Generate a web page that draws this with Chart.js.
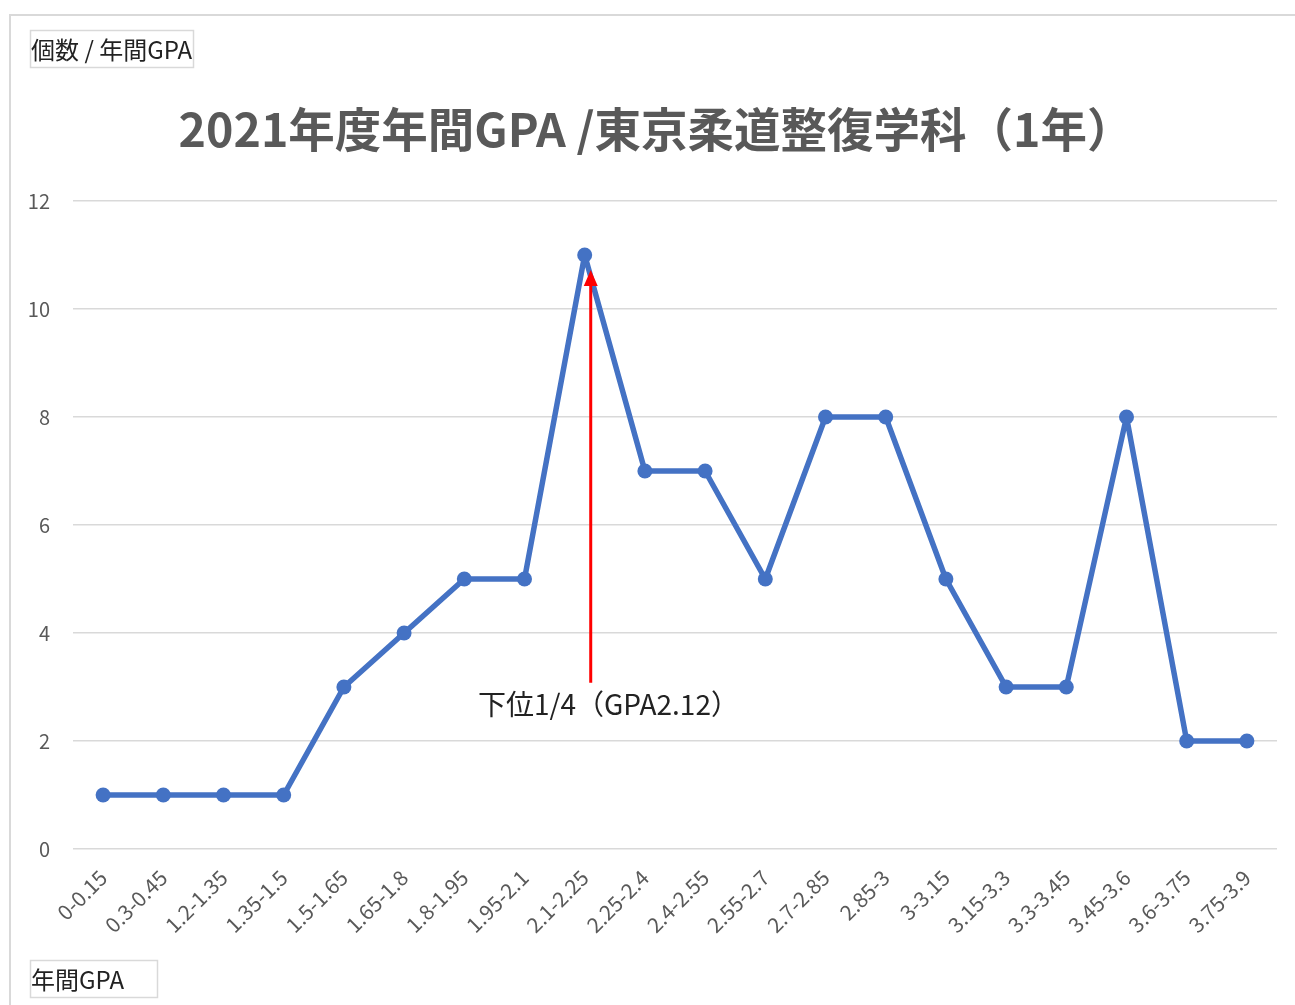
<!DOCTYPE html>
<html>
<head>
<meta charset="utf-8">
<script src="https://cdn.jsdelivr.net/npm/chart.js@4/dist/chart.umd.min.js"></script>
<style>
html,body{margin:0;padding:0;background:#fff;}
#wrap{position:relative;width:1295px;height:1005px;}
</style>
</head>
<body>
<div id="wrap"><canvas id="c" width="1295" height="1005"></canvas></div>
<script>
const categories = ["0-0.15","0.3-0.45","1.2-1.35","1.35-1.5","1.5-1.65","1.65-1.8","1.8-1.95","1.95-2.1","2.1-2.25","2.25-2.4","2.4-2.55","2.55-2.7","2.7-2.85","2.85-3","3-3.15","3.15-3.3","3.3-3.45","3.45-3.6","3.6-3.75","3.75-3.9"];
const counts = [1,1,1,1,3,4,5,5,11,7,7,5,8,8,5,3,3,8,2,2];
const yTicks = [0,2,4,6,8,10,12];
const titleText = "2021年度年間GPA /東京柔道整復学科（1年）";
const yAxisLabel = "個数 / 年間GPA";
const xAxisLabel = "年間GPA";
const annotationText = "下位1/4（GPA2.12）";
// annotation: category index (fractional) and value range of arrow
const arrowCategory = 8.1;
const arrowFrom = 3.08;
const arrowTo = 10.72;
const annotationTextValue = 2.67;

const FONT = '"Noto Sans CJK JP", "Noto Sans", sans-serif';

const decor = {
  id: 'decor',
  beforeDraw(chart) {
    const ctx = chart.ctx;
    ctx.save();
    ctx.fillStyle = '#fff';
    ctx.fillRect(0, 0, chart.width, chart.height);
    ctx.strokeStyle = '#d9d9d9';
    ctx.lineWidth = 2;
    ctx.beginPath();
    ctx.moveTo(10, 1005);
    ctx.lineTo(10, 15);
    ctx.lineTo(1295, 15);
    ctx.stroke();
    ctx.restore();
  },
  afterDraw(chart) {
    const ctx = chart.ctx;
    const xs = chart.scales.x, ys = chart.scales.y;
    ctx.save();
    // title
    ctx.fillStyle = '#595959';
    ctx.font = 'bold 46.5px ' + FONT;
    ctx.textAlign = 'center';
    ctx.textBaseline = 'middle';
    ctx.fillText(titleText, 656, 129);
    // axis label boxes
    ctx.font = '24px ' + FONT;
    ctx.textAlign = 'left';
    ctx.fillStyle = '#222';
    ctx.strokeStyle = '#d9d9d9';
    ctx.lineWidth = 1.5;
    ctx.strokeRect(30.5, 30.5, 163, 37);
    ctx.fillText(yAxisLabel, 31, 50);
    ctx.strokeRect(30.5, 960.5, 127, 37);
    ctx.fillText(xAxisLabel, 31, 980);
    // arrow
    const x0 = xs.getPixelForValue(Math.floor(arrowCategory));
    const x1 = xs.getPixelForValue(Math.floor(arrowCategory) + 1);
    const ax = x0 + (x1 - x0) * (arrowCategory - Math.floor(arrowCategory));
    const yStart = ys.getPixelForValue(arrowFrom);
    const yEnd = ys.getPixelForValue(arrowTo);
    ctx.strokeStyle = '#ff0000';
    ctx.fillStyle = '#ff0000';
    ctx.lineWidth = 3;
    ctx.beginPath();
    ctx.moveTo(ax, yStart);
    ctx.lineTo(ax, yEnd + 12);
    ctx.stroke();
    ctx.beginPath();
    ctx.moveTo(ax, yEnd);
    ctx.lineTo(ax - 7, yEnd + 16);
    ctx.lineTo(ax + 7, yEnd + 16);
    ctx.closePath();
    ctx.fill();
    // annotation text
    ctx.fillStyle = '#222';
    ctx.font = '28px ' + FONT;
    ctx.textAlign = 'left';
    ctx.textBaseline = 'middle';
    ctx.fillText(annotationText, 478, ys.getPixelForValue(annotationTextValue));
    ctx.restore();
  }
};

new Chart(document.getElementById('c'), {
  type: 'line',
  data: {
    labels: categories,
    datasets: [{
      data: counts,
      borderColor: '#4472C4',
      backgroundColor: '#4472C4',
      borderWidth: 5.5,
      borderJoinStyle: 'round',
      borderCapStyle: 'round',
      pointRadius: 7.5,
      pointHoverRadius: 7.5,
      pointBorderWidth: 0,
      tension: 0,
      fill: false
    }]
  },
  options: {
    responsive: false,
    animation: false,
    layout: { padding: { top: 201, right: 18, left: 0, bottom: 0 } },
    plugins: { legend: { display: false }, title: { display: false }, tooltip: { enabled: false } },
    scales: {
      x: {
        type: 'category',
        offset: true,
        grid: { display: false, drawTicks: false },
        border: { display: false },
        ticks: {
          color: '#595959',
          font: { family: FONT, size: 21 },
          minRotation: 45,
          maxRotation: 45,
          padding: 16,
          autoSkip: false
        },
        afterFit(scale) { scale.height = 1005 - 849; }
      },
      y: {
        min: 0,
        max: 12,
        afterBuildTicks(scale) { scale.ticks = yTicks.map(v => ({ value: v })); },
        grid: { color: '#d9d9d9', lineWidth: 1.5, drawTicks: false },
        border: { display: false },
        ticks: {
          color: '#595959',
          font: { family: FONT, size: 20 },
          padding: 23
        },
        afterFit(scale) { scale.width = 73; }
      }
    }
  },
  plugins: [decor]
});
</script>
</body>
</html>
